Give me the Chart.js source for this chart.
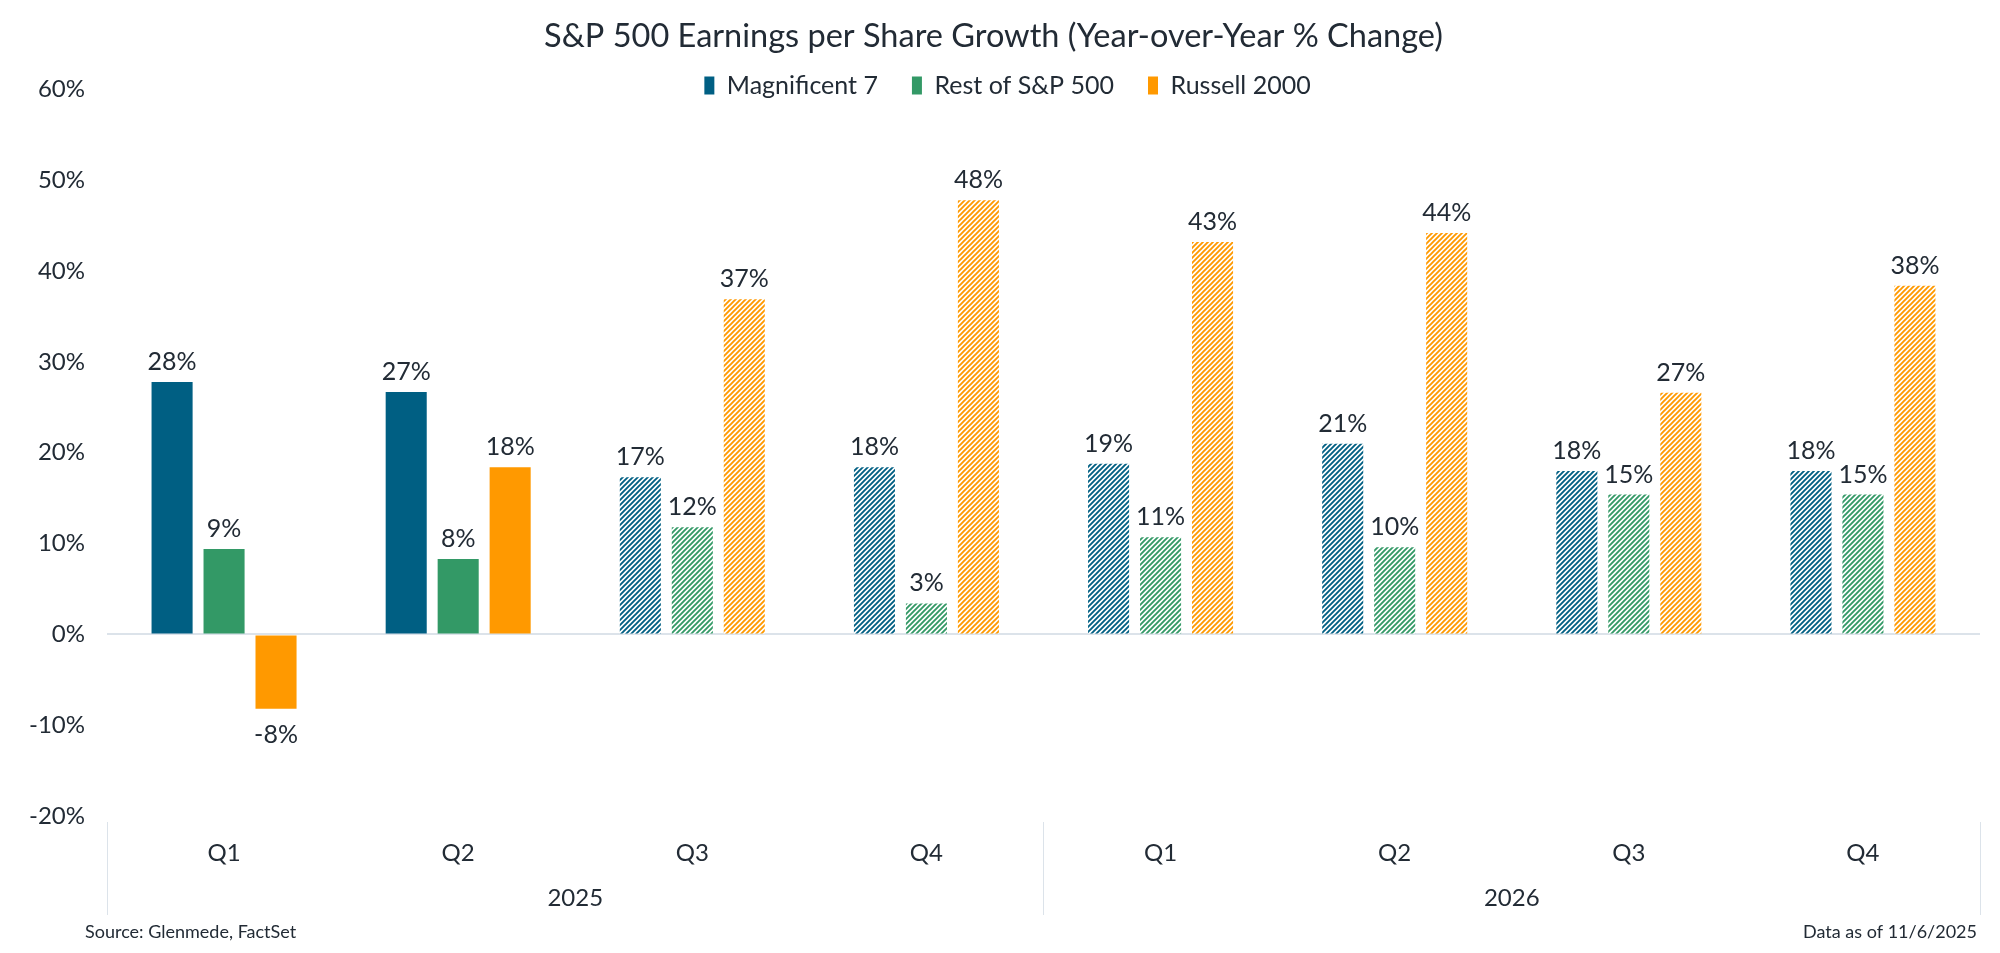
<!DOCTYPE html>
<html>
<head>
<meta charset="utf-8">
<script src="https://cdn.jsdelivr.net/npm/chart.js@4.4.1/dist/chart.umd.min.js"></script>
<style>
  html, body { margin: 0; padding: 0; background: #fff; }
  #wrap { width: 2000px; height: 953px; }
</style>
</head>
<body>
<div id="wrap"><canvas id="epsChart"></canvas></div>
<script>
// Data
const quarters = ['Q1', 'Q2', 'Q3', 'Q4', 'Q1', 'Q2', 'Q3', 'Q4'];
const years = ['2025', '2026'];
const magnificent7 = [27.8, 26.7, 17.3, 18.4, 18.8, 21.0, 18.0, 18.0];
const restOfSP500 = [9.4, 8.3, 11.8, 3.4, 10.7, 9.6, 15.4, 15.4];
const russell2000 = [-8.2, 18.4, 36.9, 47.8, 43.2, 44.2, 26.6, 38.4];
const yTicks = [-20, -10, 0, 10, 20, 30, 40, 50, 60];
const firstEstimate = 2; // Q3 2025 onward are estimates (hatched)

const textColor = '#222b35';
const lineColor = '#dce3ea';
const fontFamily = 'Lato, "Open Sans", sans-serif';

// diagonal hatch for the estimate bars
function hatch(color) {
  const size = 5;
  const c = document.createElement('canvas');
  c.width = size; c.height = size;
  const g = c.getContext('2d');
  g.fillStyle = '#fff';
  g.fillRect(0, 0, size, size);
  g.strokeStyle = color;
  g.lineWidth = 1.9;
  g.beginPath();
  g.moveTo(0, size); g.lineTo(size, 0);
  g.moveTo(-1, 1); g.lineTo(1, -1);
  g.moveTo(size - 1, size + 1); g.lineTo(size + 1, size - 1);
  g.stroke();
  return g.createPattern(c, 'repeat');
}

function barColors(color) {
  const pat = hatch(color);
  return quarters.map((q, i) => i < firstEstimate ? color : pat);
}

const series = [
  { label: 'Magnificent 7', data: magnificent7, color: '#005f83' },
  { label: 'Rest of S&P 500', data: restOfSP500, color: '#339966' },
  { label: 'Russell 2000', data: russell2000, color: '#ff9900' }
];

// value labels above / below each bar
const valueLabels = {
  id: 'valueLabels',
  afterDatasetsDraw(chart) {
    const ctx = chart.ctx;
    ctx.save();
    ctx.font = '25px ' + fontFamily;
    ctx.fillStyle = textColor;
    ctx.textAlign = 'center';
    ctx.textBaseline = 'alphabetic';
    chart.data.datasets.forEach((ds, di) => {
      chart.getDatasetMeta(di).data.forEach((bar, i) => {
        const v = ds.data[i];
        const txt = Math.round(v) + '%';
        if (v >= 0) ctx.fillText(txt, bar.x, bar.y - 12);
        else ctx.fillText(txt, bar.x, bar.y + 34);
      });
    });
    ctx.restore();
  }
};

// the legend sits partly over the plot top: let it draw past its box
const legendRoom = {
  id: 'legendRoom',
  afterLayout(chart) {
    const lg = chart.legend;
    lg.bottom = lg.top + 70;
    lg.height = 70;
    lg.left += 14;
    lg.right += 14;
  }
};

// year row, separators and footer notes
const axisExtras = {
  id: 'axisExtras',
  afterDraw(chart) {
    const ctx = chart.ctx;
    const x = chart.scales.x;
    const area = chart.chartArea;
    const step = (x.getPixelForValue(1) - x.getPixelForValue(0));
    const per = quarters.length / years.length;
    ctx.save();
    ctx.strokeStyle = lineColor;
    ctx.lineWidth = 1;
    for (let k = 0; k <= years.length; k++) {
      const px = Math.round(x.getPixelForValue(k * per) - step / 2) + 0.5;
      ctx.beginPath();
      ctx.moveTo(px, area.bottom + 6);
      ctx.lineTo(px, area.bottom + 99);
      ctx.stroke();
    }
    ctx.font = '24px ' + fontFamily;
    ctx.fillStyle = textColor;
    ctx.textAlign = 'center';
    ctx.textBaseline = 'middle';
    years.forEach((yr, k) => {
      const left = x.getPixelForValue(k * per) - step / 2;
      const right = x.getPixelForValue((k + 1) * per - 1) + step / 2;
      ctx.fillText(yr, (left + right) / 2, area.bottom + 82);
    });
    ctx.font = '18px ' + fontFamily;
    ctx.textAlign = 'left';
    ctx.fillText('Source: Glenmede, FactSet', 85, chart.height - 21);
    ctx.textAlign = 'right';
    ctx.fillText('Data as of 11/6/2025', 1977, chart.height - 21);
    ctx.restore();
  }
};

const ctx = document.getElementById('epsChart').getContext('2d');
const epsChart = new Chart(ctx, {
  type: 'bar',
  data: {
    labels: quarters,
    datasets: series.map(s => ({
      label: s.label,
      data: s.data,
      backgroundColor: barColors(s.color),
      borderWidth: 0,
      categoryPercentage: 0.666,
      barPercentage: 0.79
    }))
  },
  options: {
    responsive: true,
    maintainAspectRatio: false,
    animation: false,
    devicePixelRatio: 1,
    layout: {
      padding: { left: 7, right: 20, top: 0, bottom: 37 }
    },
    scales: {
      y: {
        min: -20,
        max: 60,
        afterBuildTicks: (scale) => { scale.ticks = yTicks.map(v => ({ value: v })); },
        border: { display: false },
        grid: {
          drawTicks: false,
          color: (c) => c.tick && c.tick.value === 0 ? lineColor : 'rgba(0,0,0,0)',
          lineWidth: 2
        },
        ticks: {
          padding: 22,
          color: textColor,
          font: { family: fontFamily, size: 24 },
          callback: (v) => v + '%'
        }
      },
      x: {
        border: { display: false },
        grid: { display: false },
        afterFit: (scale) => { scale.height = 100; },
        ticks: {
          padding: 15,
          color: textColor,
          font: { family: fontFamily, size: 24 }
        }
      }
    },
    plugins: {
      title: {
        display: true,
        text: 'S&P 500 Earnings per Share Growth (Year-over-Year % Change)',
        color: textColor,
        font: { family: fontFamily, size: 32.5, weight: 'normal' },
        padding: { top: 17, bottom: -17 }
      },
      legend: {
        position: 'top',
        maxHeight: 50.5,
        labels: {
          color: textColor,
          font: { family: fontFamily, size: 25 },
          boxWidth: 10,
          boxHeight: 18,
          padding: 34,
          generateLabels: () => series.map((s, i) => ({
            text: s.label,
            fillStyle: s.color,
            strokeStyle: s.color,
            lineWidth: 0,
            datasetIndex: i,
            fontColor: textColor
          }))
        }
      },
      tooltip: { enabled: false }
    }
  },
  plugins: [valueLabels, legendRoom, axisExtras]
});
</script>
</body>
</html>
